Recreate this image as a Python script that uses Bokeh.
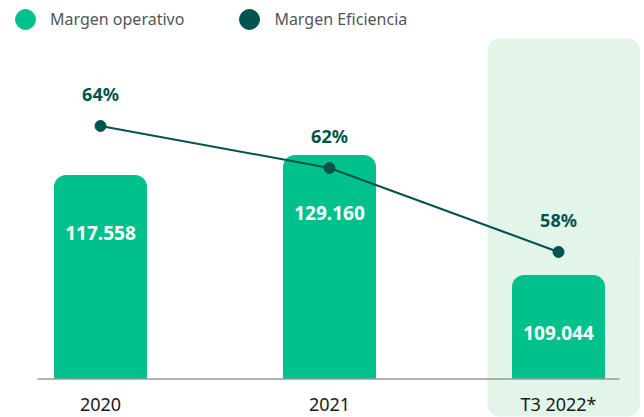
from bokeh.plotting import figure
from bokeh.models import ColumnDataSource, Range1d, Legend, LegendItem
from bokeh.core.properties import value
from bokeh.embed import file_html
from bokeh.resources import INLINE

# ---- data ----
categories = ["2020", "2021", "T3 2022*"]
margen_operativo = [117.558, 129.160, 109.044]          # label values
bar_heights = [117.558, 129.160, 60.0]                  # drawn heights
op_labels = ["117.558", "129.160", "109.044"]
margen_eficiencia = [64, 62, 58]
ef_labels = ["64%", "62%", "58%"]
highlight_index = 2

GREEN = "#00C18B"
TEAL = "#00534F"
HILITE = "#E3F5E9"
FONT = "Noto Sans"

W, H = 644, 417
px_per_cat = 229.0
x0_px = 100.0           # pixel position of first category
base_px = 378.5         # baseline (from top)
px_per_unit = 1.735
px_per_pct = 21.0
pct_at_base = 51.95

x_start = -x0_px / px_per_cat
x_end = (W - x0_px) / px_per_cat
y_start = -(H - base_px) / px_per_unit
y_end = base_px / px_per_unit
e_start = pct_at_base - (H - base_px) / px_per_pct
e_end = pct_at_base + base_px / px_per_pct

xs = list(range(len(categories)))

p = figure(width=W, height=H, output_backend="svg", toolbar_location=None,
           x_range=Range1d(x_start, x_end), y_range=Range1d(y_start, y_end),
           min_border=0, outline_line_color=None, background_fill_color="white")
p.axis.visible = False
p.grid.visible = False
p.extra_y_ranges = {"ef": Range1d(e_start, e_end)}

# highlight box
hx = xs[highlight_index]
p.quad(left=[hx - 0.31], right=[hx + 0.355], bottom=[y_start + 1 / px_per_unit],
       top=[y_end - 38 / px_per_unit], fill_color=HILITE, line_color=None,
       border_radius=12)

# bars
src = ColumnDataSource(dict(x=xs, h=bar_heights, lab=op_labels, cat=categories))
p.vbar(x="x", top="h", bottom=0, width=0.406, source=src, fill_color=GREEN,
       line_color=None, border_radius=(12, 12, 0, 0))

# baseline
bl_left = x_start + 37 / px_per_cat
bl_right = x_start + 619 / px_per_cat
p.segment(x0=[bl_left], x1=[bl_right], y0=[0], y1=[0], line_color="#9A9A9A", line_width=1.5)

# bar labels
p.text(x="x", y="h", text="lab", source=src, text_color="white",
       text_font=value(FONT), text_font_size="19px", text_font_style="bold",
       text_align="center", text_baseline="middle", y_offset=58)

# x labels
p.text(x="x", y=0, text="cat", source=src, text_color="#1A1A1A",
       text_font=value(FONT), text_font_size="18px", text_align="center",
       text_baseline="middle", y_offset=25)

# efficiency line
esrc = ColumnDataSource(dict(x=xs, y=margen_eficiencia, lab=ef_labels))
p.line(x="x", y="y", source=esrc, y_range_name="ef", line_color=TEAL, line_width=2)
p.scatter(x="x", y="y", source=esrc, y_range_name="ef", size=11,
          fill_color=TEAL, line_color=TEAL)
p.text(x="x", y="y", text="lab", source=esrc, y_range_name="ef", text_color=TEAL,
       text_font=value(FONT), text_font_size="18px", text_font_style="bold",
       text_align="center", text_baseline="middle", y_offset=-32)

# legend (dummy renderers, one off-screen point each)
dummy = ColumnDataSource(dict(x=[-100], y=[-1000]))
r1 = p.scatter(x="x", y="y", source=dummy, fill_color=GREEN, line_color=GREEN)
r2 = p.scatter(x="x", y="y", source=dummy, fill_color=TEAL, line_color=TEAL)
legend = Legend(items=[LegendItem(label="Margen operativo", renderers=[r1]),
                       LegendItem(label="Margen Eficiencia", renderers=[r2])],
                orientation="horizontal", location=(0, H - 44), padding=0, margin=0,
                glyph_width=50, glyph_height=50, label_standoff=-8, spacing=40,
                label_text_font=FONT, label_text_font_size="16px",
                label_text_color="#555555", border_line_color=None,
                background_fill_alpha=0)
p.add_layout(legend)

open("out.html", "w").write(file_html(p, INLINE))
